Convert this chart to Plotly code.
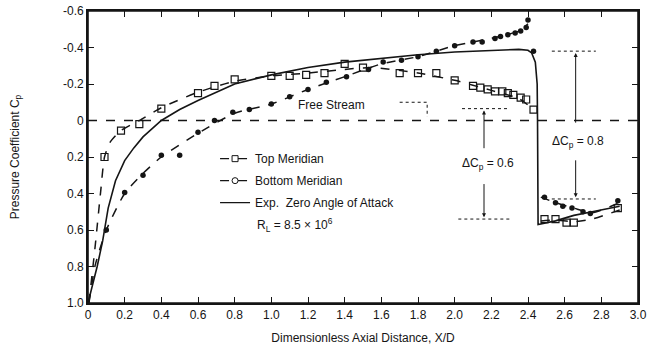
import plotly.graph_objects as go

# ---------------- data ----------------
x_ticks = [0, 0.2, 0.4, 0.6, 0.8, 1.0, 1.2, 1.4, 1.6, 1.8, 2.0, 2.2, 2.4, 2.6, 2.8, 3.0]
x_tick_labels = ["0", "0.2", "0.4", "0.6", "0.8", "1.0", "1.2", "1.4", "1.6", "1.8",
                 "2.0", "2.2", "2.4", "2.6", "2.8", "3.0"]
y_ticks = [-0.6, -0.4, -0.2, 0, 0.2, 0.4, 0.6, 0.8, 1.0]
y_tick_labels = ["-0.6", "-0.4", "-0.2", "0", "0.2", "0.4", "0.6", "0.8", "1.0"]

# Top meridian (open squares)
top_x = [0.09, 0.18, 0.28, 0.40, 0.60, 0.69, 0.80, 1.00, 1.10, 1.19, 1.29, 1.40, 1.50,
         1.70, 1.80, 1.90, 2.00, 2.10, 2.14, 2.18, 2.22, 2.26, 2.29, 2.32, 2.36, 2.39, 2.43,
         2.49, 2.55, 2.61, 2.65, 2.89]
top_cp = [0.20, 0.055, 0.02, -0.065, -0.15, -0.19, -0.225, -0.245, -0.245, -0.25, -0.26, -0.31, -0.29,
          -0.26, -0.26, -0.26, -0.22, -0.19, -0.18, -0.17, -0.16, -0.16, -0.15, -0.14, -0.125, -0.115, -0.06,
          0.54, 0.54, 0.56, 0.56, 0.48]
# faired dashed curve through top meridian
top_fair_x = [0.005, 0.04, 0.07, 0.09, 0.12, 0.18, 0.28, 0.40, 0.60, 0.80, 1.00, 1.20, 1.40, 1.55,
              1.80, 2.00, 2.20, 2.35, 2.43, None, 2.47, 2.55, 2.65, 2.75, 2.90]
top_fair_cp = [1.0, 0.68, 0.38, 0.20, 0.12, 0.055, 0.0, -0.07, -0.155, -0.215, -0.245, -0.26, -0.28, -0.29,
               -0.26, -0.22, -0.165, -0.12, -0.06, None, 0.55, 0.545, 0.555, 0.54, 0.49]

# Bottom meridian (circles)
bot_x = [0.10, 0.20, 0.30, 0.40, 0.50, 0.60, 0.69, 0.79, 0.88, 1.00, 1.10, 1.20, 1.30, 1.41, 1.53,
         1.61, 1.71, 1.80, 1.90, 2.00, 2.10, 2.15, 2.22, 2.25, 2.29, 2.33, 2.36, 2.39, 2.40, 2.43,
         2.49, 2.55, 2.59, 2.64, 2.70, 2.74, 2.89]
bot_cp = [0.60, 0.395, 0.30, 0.19, 0.19, 0.065, 0.0, -0.045, -0.06, -0.09, -0.13, -0.17, -0.21, -0.24, -0.28,
          -0.32, -0.33, -0.35, -0.38, -0.41, -0.43, -0.43, -0.45, -0.46, -0.47, -0.48, -0.49, -0.51, -0.55, -0.38,
          0.42, 0.45, 0.47, 0.48, 0.50, 0.51, 0.44]
bot_fair_x = [0.005, 0.04, 0.10, 0.20, 0.30, 0.40, 0.60, 0.80, 1.00, 1.20, 1.40, 1.60, 1.80, 2.00,
              2.20, 2.35, 2.40, None, 2.47, 2.55, 2.65, 2.75, 2.90]
bot_fair_cp = [1.0, 0.79, 0.60, 0.40, 0.29, 0.20, 0.07, -0.04, -0.09, -0.17, -0.24, -0.31, -0.35, -0.41,
               -0.45, -0.49, -0.53, None, 0.42, 0.45, 0.48, 0.505, 0.45]

# Experimental zero angle of attack (solid)
exp_x = [0.0, 0.02, 0.05, 0.08, 0.11, 0.15, 0.20, 0.25, 0.30, 0.40, 0.50, 0.60, 0.80, 1.00, 1.20, 1.40,
         1.60, 1.80, 2.00, 2.20, 2.35, 2.40, 2.42, 2.44, 2.45, 2.452, 2.455, 2.55, 2.65, 2.75, 2.90]
exp_cp = [1.0, 0.92, 0.80, 0.66, 0.48, 0.33, 0.22, 0.15, 0.09, 0.0, -0.06, -0.11, -0.20, -0.25, -0.29, -0.32,
          -0.34, -0.36, -0.375, -0.385, -0.39, -0.385, -0.37, -0.32, -0.2, 0.0, 0.57, 0.55, 0.52, 0.50, 0.47]

INK = "#151515"
FONT = "Liberation Sans, Arial, sans-serif"
FS = 12

fig = go.Figure()

# faired lines
fig.add_trace(go.Scatter(x=top_fair_x, y=top_fair_cp, mode="lines", showlegend=False,
                         line=dict(color=INK, width=1.5, dash="dash", shape="spline", smoothing=0.6),
                         connectgaps=False, hoverinfo="skip"))
fig.add_trace(go.Scatter(x=bot_fair_x, y=bot_fair_cp, mode="lines", showlegend=False,
                         line=dict(color=INK, width=1.5, dash="dash", shape="spline", smoothing=0.6),
                         connectgaps=False, hoverinfo="skip"))
fig.add_trace(go.Scatter(x=exp_x, y=exp_cp, mode="lines", showlegend=False,
                         line=dict(color=INK, width=1.6), hoverinfo="skip"))

# markers
fig.add_trace(go.Scatter(x=top_x, y=top_cp, mode="markers", showlegend=False,
                         marker=dict(symbol="square-open", size=7, color=INK, line=dict(width=1.2))))
fig.add_trace(go.Scatter(x=bot_x, y=bot_cp, mode="markers", showlegend=False,
                         marker=dict(symbol="circle", size=5.5, color=INK)))

# legend entries
fig.add_trace(go.Scatter(x=[None], y=[None], mode="lines+markers", name="Top Meridian",
                         legendgroup="a",
                         line=dict(color=INK, width=1.2, dash="dash"),
                         marker=dict(symbol="square-open", size=6, color=INK, line=dict(width=1))))
fig.add_trace(go.Scatter(x=[None], y=[None], mode="lines+markers", name="Bottom Meridian",
                         legendgroup="b",
                         line=dict(color=INK, width=1.2, dash="dash"),
                         marker=dict(symbol="circle-open", size=6, color=INK, line=dict(width=1))))
fig.add_trace(go.Scatter(x=[None], y=[None], mode="lines", name="Exp.  Zero Angle of Attack",
                         legendgroup="c", line=dict(color=INK, width=1.2)))

shapes = [
    # plot frame
    dict(type="rect", xref="paper", yref="paper", x0=0, x1=1, y0=0, y1=1,
         line=dict(color=INK, width=1.6)),
    # free stream line
    dict(type="line", xref="paper", yref="y", x0=0, x1=1, y0=0, y1=0,
         line=dict(color=INK, width=1.5, dash="dash")),
    # free stream leader
    dict(type="path", xref="x", yref="y", path="M 1.70,-0.1 L 1.85,-0.1 L 1.85,-0.02",
         line=dict(color=INK, width=1, dash="dot")),
    # delta Cp 0.6
    dict(type="line", x0=2.04, x1=2.30, y0=-0.065, y1=-0.065, line=dict(color=INK, width=1, dash="dot")),
    dict(type="line", x0=2.02, x1=2.31, y0=0.54, y1=0.54, line=dict(color=INK, width=1, dash="dot")),
    # delta Cp 0.8
    dict(type="line", x0=2.53, x1=2.77, y0=-0.38, y1=-0.38, line=dict(color=INK, width=1, dash="dot")),
    dict(type="line", x0=2.53, x1=2.77, y0=0.43, y1=0.43, line=dict(color=INK, width=1, dash="dot")),
]

annotations = [
    dict(x=1.33, y=-0.085, text="Free Stream", showarrow=False, font=dict(size=FS, family=FONT, color=INK)),
    dict(x=0.91, y=0.57, xanchor="left", text="R<sub>L</sub> = 8.5 × 10<sup>6</sup>", showarrow=False,
         font=dict(size=FS, family=FONT, color=INK)),
    dict(x=2.18, y=0.24, text="ΔC<sub>p</sub> = 0.6", showarrow=False, font=dict(size=FS, family=FONT, color=INK)),
    dict(x=2.67, y=0.12, text="ΔC<sub>p</sub> = 0.8", showarrow=False, font=dict(size=FS, family=FONT, color=INK)),
    # arrows
    dict(x=2.16, y=-0.055, ax=2.16, ay=0.16, axref="x", ayref="y", xref="x", yref="y", text="",
         showarrow=True, arrowhead=2, arrowsize=0.8, arrowwidth=1, arrowcolor=INK),
    dict(x=2.16, y=0.53, ax=2.16, ay=0.34, axref="x", ayref="y", xref="x", yref="y", text="",
         showarrow=True, arrowhead=2, arrowsize=0.8, arrowwidth=1, arrowcolor=INK),
    dict(x=2.66, y=-0.37, ax=2.66, ay=0.02, axref="x", ayref="y", xref="x", yref="y", text="",
         showarrow=True, arrowhead=2, arrowsize=0.8, arrowwidth=1, arrowcolor=INK),
    dict(x=2.66, y=0.42, ax=2.66, ay=0.21, axref="x", ayref="y", xref="x", yref="y", text="",
         showarrow=True, arrowhead=2, arrowsize=0.8, arrowwidth=1, arrowcolor=INK),
]

axis_common = dict(showline=True, linecolor=INK, linewidth=1.6, mirror="ticks", ticks="inside",
                   ticklen=6, tickwidth=1.2, tickcolor=INK, showgrid=False, zeroline=False,
                   automargin=False, ticklabeloverflow="allow",
                   tickfont=dict(size=FS, family=FONT, color=INK))

fig.update_layout(
    width=658, height=350,
    margin=dict(l=88, r=20, t=11, b=47),
    paper_bgcolor="white", plot_bgcolor="white",
    font=dict(family=FONT, color=INK),
    xaxis=dict(range=[0, 3.0], tickvals=x_ticks, ticktext=x_tick_labels,
               title=dict(text="Dimensionless Axial Distance, X/D", font=dict(size=FS, family=FONT, color=INK),
                          standoff=12),
               **axis_common),
    yaxis=dict(range=[1.0, -0.6], tickvals=y_ticks, ticktext=y_tick_labels,
               title=dict(text="Pressure Coefficient C<sub>p</sub>", font=dict(size=FS, family=FONT, color=INK),
                          standoff=41),
               **axis_common),
    legend=dict(x=0.231, y=0.544, xanchor="left", yanchor="top", bgcolor="rgba(0,0,0,0)",
                font=dict(size=FS, family=FONT, color=INK), tracegroupgap=3, traceorder="grouped"),
    shapes=shapes,
    annotations=annotations,
    showlegend=True,
)

fig.write_html("out.html", config={"displayModeBar": False},
               post_script="document.body.style.margin='0';document.body.style.overflow='hidden';")
